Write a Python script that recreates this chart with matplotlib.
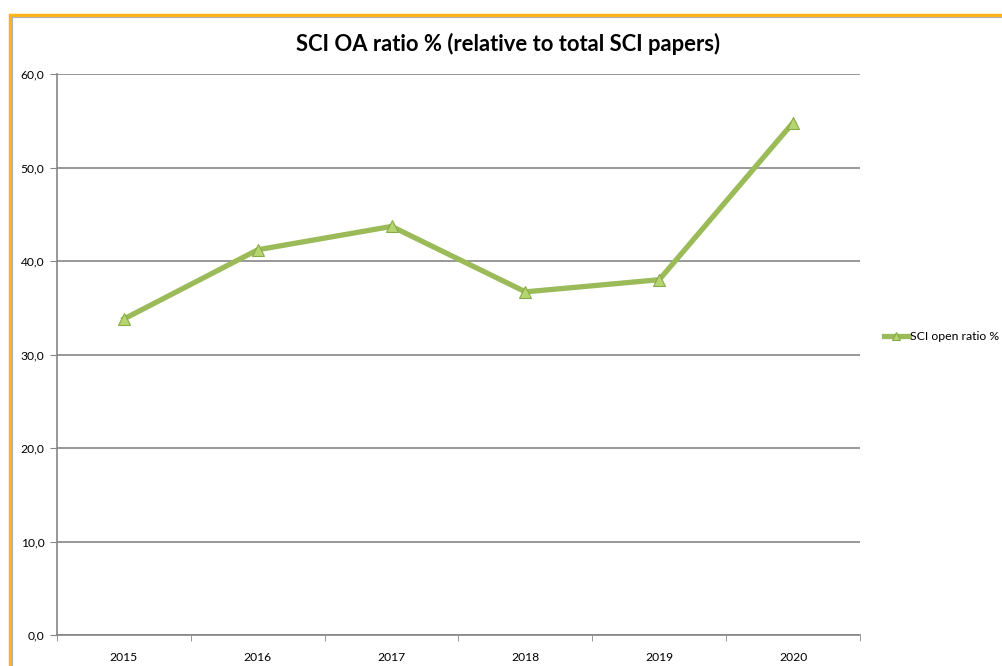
import matplotlib
matplotlib.use('Agg')
import matplotlib.pyplot as plt
from matplotlib.patches import Rectangle
from matplotlib.ticker import FuncFormatter

# data
years = ['2015', '2016', '2017', '2018', '2019', '2020']
oa_ratio = [33.8, 41.2, 43.7, 36.7, 38.0, 54.8]
series_name = 'SCI open ratio %'
title = 'SCI OA ratio % (relative to total SCI papers)'

plt.rcParams['font.family'] = ['Lato', 'DejaVu Sans']

fig = plt.figure(figsize=(10.03, 6.66), dpi=100)
ax = fig.add_axes([57/1003, 1-635/666, (860-57)/1003, (635-74)/666])

x = list(range(len(years)))
ax.plot(x, oa_ratio, color='#9BBB59', lw=3.8, marker='^', ms=9,
        mfc='#B5D56F', mec='#8AAA4A', mew=0.8, label=series_name,
        solid_joinstyle='round', zorder=3)

ax.set_xlim(-0.5, len(years) - 0.5)
ax.set_ylim(0, 60)
ax.set_yticks(range(0, 61, 10))
ax.yaxis.set_major_formatter(FuncFormatter(lambda v, p: f'{v:.1f}'.replace('.', ',')))
ax.set_xticks(x)
ax.set_xticklabels(years)
ax.set_xticks([i - 0.5 for i in range(len(years) + 1)], minor=True)
ax.tick_params(axis='x', which='major', length=0, labelsize=8.7, pad=12)
ax.tick_params(axis='x', which='minor', length=4, color='#868686', direction='out')
ax.tick_params(axis='y', length=5, color='#868686', labelsize=8.7, pad=4)

ax.grid(axis='y', color='#868686', lw=1.2)
ax.set_axisbelow(True)
for s in ['top', 'right']:
    ax.spines[s].set_visible(False)
for s in ['left', 'bottom']:
    ax.spines[s].set_color('#868686')
    ax.spines[s].set_linewidth(1.2)

fig.text(508/1003, 1-44/666, title, ha='center', va='center',
         fontsize=15.8, fontweight='bold')

ax.legend(loc='center left', bbox_to_anchor=(878/1003, 1-337/666),
          bbox_transform=fig.transFigure, frameon=False, fontsize=8.8,
          handlelength=2.0, handletextpad=0.1, borderpad=0, markerscale=0.7)

# chart-area border (orange with thin grey inner line)
fig.patches.append(Rectangle((10/1003, -0.1), 1.2, 1 - 15/666 + 0.1,
                             transform=fig.transFigure, fill=False,
                             ec='#FFB31A', lw=2.5, zorder=0))
fig.patches.append(Rectangle((12/1003, -0.1), 1.2, 1 - 17/666 + 0.1,
                             transform=fig.transFigure, fill=False,
                             ec='#B0B0B0', lw=0.8, zorder=0))

fig.savefig('out.png', dpi=100)
